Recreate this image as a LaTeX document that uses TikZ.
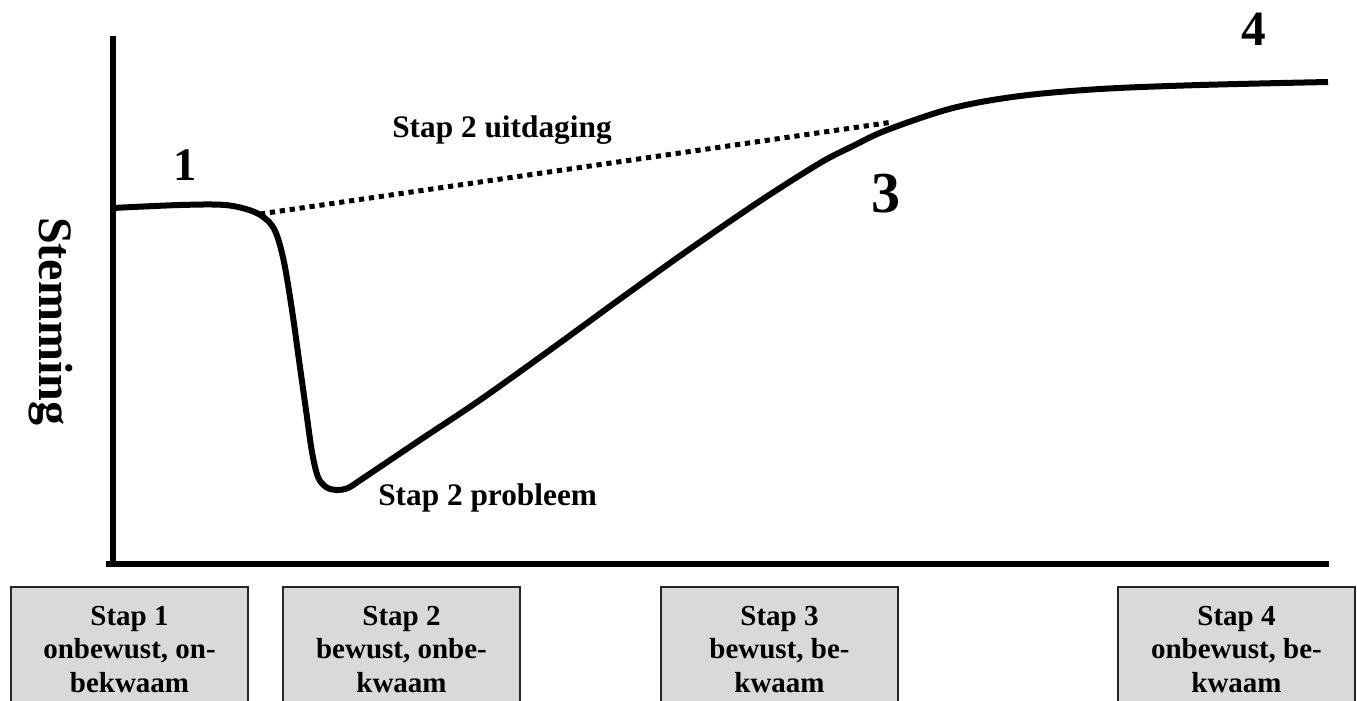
\documentclass[tikz,border=0pt]{standalone}
\usepackage{fontspec}
\setmainfont{Liberation Serif}
\begin{document}
\begin{tikzpicture}[x=0.75pt,y=-0.75pt,
  axis/.style={line width=4pt},
  curve/.style={line width=4.5pt, line join=round, line cap=butt},
  dots/.style={line width=3.75pt, dash pattern=on 3.9pt off 3.6pt},
  stage/.style={draw=black!85, line width=1.5pt, fill=black!15, anchor=north west,
    minimum width=177.75pt, align=center, inner xsep=0pt, inner ysep=14.25pt,
    font=\bfseries\fontsize{21.75}{25.1}\selectfont},
  lbl/.style={font=\bfseries\fontsize{23.5}{27}\selectfont, anchor=base west, inner sep=0pt},
  num/.style={font=\bfseries, anchor=base, inner sep=0pt}]
\useasboundingbox (0,0) rectangle (1357,700);
\begin{scope}
\clip (0,0) rectangle (1357,700);
\node[stage] (s1) at (10,586) {Stap 1\\onbewust, on-\\bekwaam};
\node[stage] (s2) at (282,586) {Stap 2\\bewust, onbe-\\kwaam};
\node[stage] (s3) at (660,586) {Stap 3\\bewust, be-\\kwaam};
\node[stage] (s4) at (1117,586) {Stap 4\\onbewust, be-\\kwaam};
\end{scope}
% axes
\coordinate (ytop) at (113,36);
\coordinate (orig) at (113,564);
\coordinate (xend) at (1329,564);
\draw[axis] (ytop) -- (orig);
\draw[axis] (106,564) -- (xend);
% curve
\draw[curve] plot[smooth, tension=0.55] coordinates {
 (113,208) (180,205) (225,205) (252,211) (267,220) (276,233) (284,262) (292,310)
 (299,360) (306,410) (312,452) (318,477) (326,487) (336,490) (348,488) (362,479)
 (420,440) (480,400) (550,350) (620,299) (687,251) (760,201) (820,163) (853,146)
 (887,130) (953,108) (1020,96) (1100,89) (1200,85) (1328,82)};
% dotted line
\coordinate (d1) at (260,214);
\coordinate (d2) at (893,122);
\draw[dots] (d1) -- (d2);
% labels
\node[lbl] (uit) at (392,137) {Stap 2 uitdaging};
\node[lbl] (prob) at (378,505) {Stap 2 probleem};
\node[num, font=\bfseries\fontsize{35}{40}\selectfont] (n1) at (185,180) {1};
\node[num, font=\bfseries\fontsize{43.5}{48}\selectfont] (n3) at (886,212) {3};
\node[num, font=\bfseries\fontsize{37}{42}\selectfont] (n4) at (1254,45) {4};
\node[rotate=-90, anchor=base west, inner sep=0pt, font=\bfseries\fontsize{36}{40}\selectfont] (yl) at (39,217) {Stemming};
\end{tikzpicture}
\end{document}
